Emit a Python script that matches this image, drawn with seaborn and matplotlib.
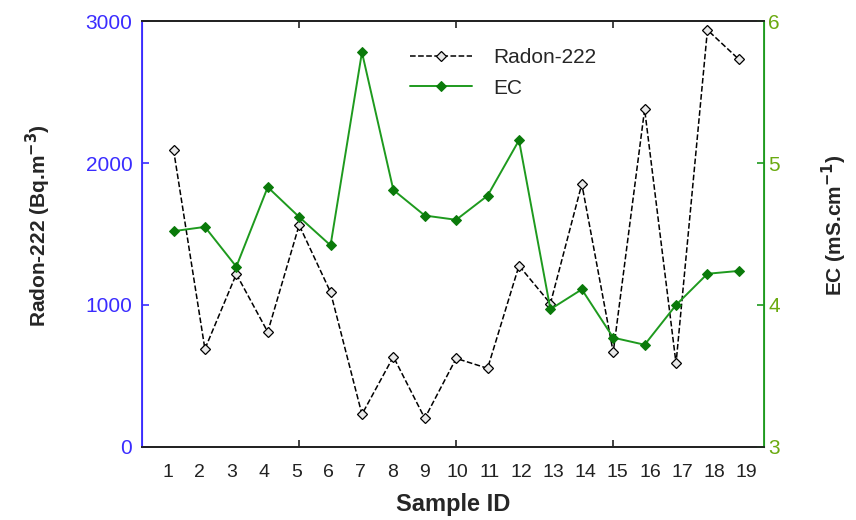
import matplotlib
matplotlib.use("Agg")
import matplotlib.pyplot as plt
import seaborn as sns
import pandas as pd
import numpy as np

sample_id = list(range(1, 20))
radon = [2095, 690, 1218, 810, 1563, 1090, 230, 636, 202, 624,
         554, 1277, 1010, 1852, 667, 2378, 589, 2937, 2730]
ec = [4.52, 4.55, 4.27, 4.83, 4.62, 4.42, 5.78, 4.81, 4.63, 4.60,
      4.77, 5.16, 3.97, 4.11, 3.77, 3.72, 4.00, 4.22, 4.24]
tick_labels = [str(i) for i in sample_id]

df = pd.DataFrame({"id": sample_id, "radon": radon, "ec": ec})

sns.set_style("white")
plt.rcParams["font.family"] = ["Liberation Sans", "DejaVu Sans"]

fig = plt.figure(figsize=(8.56, 5.2), dpi=100)
ax = fig.add_axes([0.166, 0.1404, 0.7265, 0.8192])
ax2 = ax.twinx()

blue = "#3a2cff"
green = "#1e9a1e"
green_lbl = "#6aaa10"

sns.lineplot(data=df, x="id", y="radon", ax=ax, color="black", linestyle="--",
             linewidth=1.1, marker="D", markersize=5, markerfacecolor="#e8e8e8",
             markeredgecolor="black", markeredgewidth=0.9, label="Radon-222",
             legend=False)
sns.lineplot(data=df, x="id", y="ec", ax=ax2, color=green, linestyle="-",
             linewidth=1.4, marker="D", markersize=5.5, markerfacecolor="#0a7a0a",
             markeredgecolor="#0a7a0a", label="EC", legend=False)

ax.set_xlim(0, 19.8)
ax.set_ylim(0, 3000)
ax2.set_ylim(3, 6)

ax.set_yticks([0, 1000, 2000, 3000])
ax2.set_yticks([3, 4, 5, 6])
ax.set_xticks([5, 10, 15])
ax.set_xticklabels([])
label_pos = [0.81 + 1.024 * (i - 1) for i in sample_id]
ax.set_xticks(label_pos, minor=True)
ax.set_xticklabels(tick_labels, minor=True)
ax.tick_params(axis="x", which="minor", length=0, labelsize=14, pad=12, colors="#222222")
ax.tick_params(axis="x", which="major", direction="in", length=5, width=1.2,
               top=True, bottom=True, color="#222222")
ax.tick_params(axis="y", direction="in", length=5, width=1.2, colors=blue,
               labelsize=15, pad=7, left=True)
ax2.tick_params(axis="y", direction="in", length=5, width=1.2, colors=green,
                labelcolor=green_lbl, labelsize=15, pad=3, right=True)

for a in (ax, ax2):
    a.spines["top"].set_color("#222222")
    a.spines["bottom"].set_color("#222222")
    a.spines["top"].set_linewidth(1.3)
    a.spines["bottom"].set_linewidth(1.3)
ax.spines["left"].set_color(blue)
ax2.spines["left"].set_color(blue)
ax.spines["right"].set_color(green)
ax2.spines["right"].set_color(green)
ax.spines["left"].set_linewidth(1.3)
ax2.spines["right"].set_linewidth(1.3)

ax.set_xlabel("Sample ID", fontsize=17, fontweight="bold")
ax.set_ylabel("Radon-222 (Bq.m$^{\\mathbf{-3}}$)", fontsize=15, fontweight="bold")
ax2.set_ylabel("EC (mS.cm$^{\\mathbf{-1}}$)", fontsize=15, fontweight="bold")
ax.xaxis.set_label_coords(0.5, -0.108)
ax.yaxis.set_label_coords(-0.143, 0.52)
ax2.yaxis.set_label_coords(1.089, 0.52)

h1, l1 = ax.get_legend_handles_labels()
h2, l2 = ax2.get_legend_handles_labels()
ax2.legend(h1 + h2, l1 + l2, loc="upper left", bbox_to_anchor=(0.4, 0.98),
           frameon=False, fontsize=15, handlelength=3.0, handletextpad=1.0,
           labelspacing=0.55)

fig.savefig("out.png", dpi=100)
